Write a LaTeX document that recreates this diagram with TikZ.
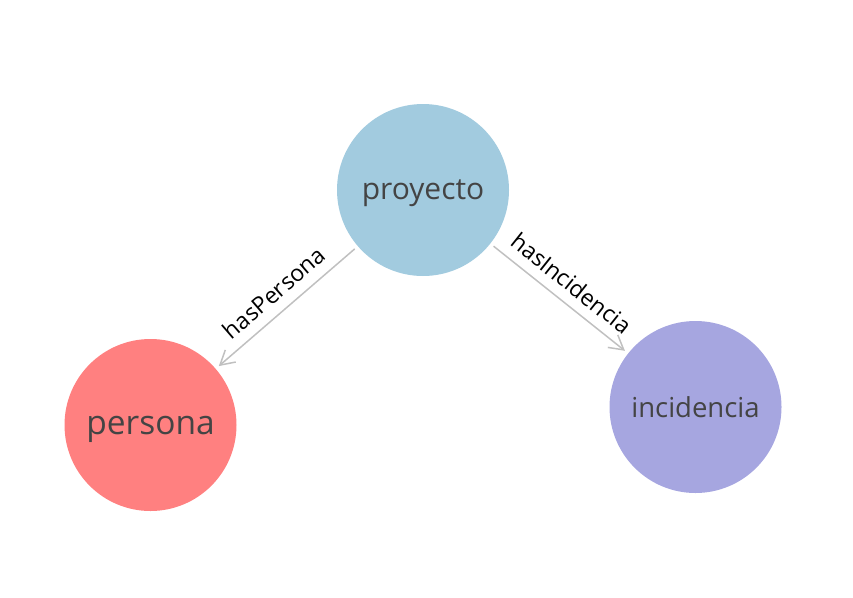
\documentclass[tikz,border=0pt]{standalone}
\usepackage{fontspec}
\setmainfont{Open Sans}
\usetikzlibrary{arrows.meta}
\definecolor{cproy}{HTML}{A2CBDF}
\definecolor{cpers}{HTML}{FF8080}
\definecolor{cinc}{HTML}{A6A6E0}
\definecolor{ctxt}{HTML}{444444}
\definecolor{cedge}{HTML}{C0C0C0}
\tikzset{
  ent/.style={circle, minimum size=172pt, inner sep=0pt, text=ctxt, text depth=0pt},
  rel/.style={draw=cedge, line width=1.5pt, -{Straight Barb[length=14pt,width=16pt,line width=1.5pt]}, shorten >=4pt, shorten <=4pt},
  rlab/.style={sloped, above=8pt, font=\fontsize{23}{23}\selectfont, text=black, inner sep=2pt}
}
\begin{document}
\begin{tikzpicture}[x=1pt,y=-1pt]
\useasboundingbox (0,0) rectangle (853,597);
\node[ent, fill=cproy, font=\fontsize{30}{30}\selectfont] (proy) at (423,190) {proyecto};
\node[ent, fill=cpers, font=\fontsize{33.5}{33.5}\selectfont] (pers) at (150.5,425) {persona};
\node[ent, fill=cinc, font=\fontsize{27.5}{27.5}\selectfont] (inc) at (695.5,407) {incidencia};
\draw[rel] (proy) -- node[rlab] {hasPersona} (pers);
\draw[rel] (proy) -- node[rlab] {hasIncidencia} (inc);
\end{tikzpicture}
\end{document}
